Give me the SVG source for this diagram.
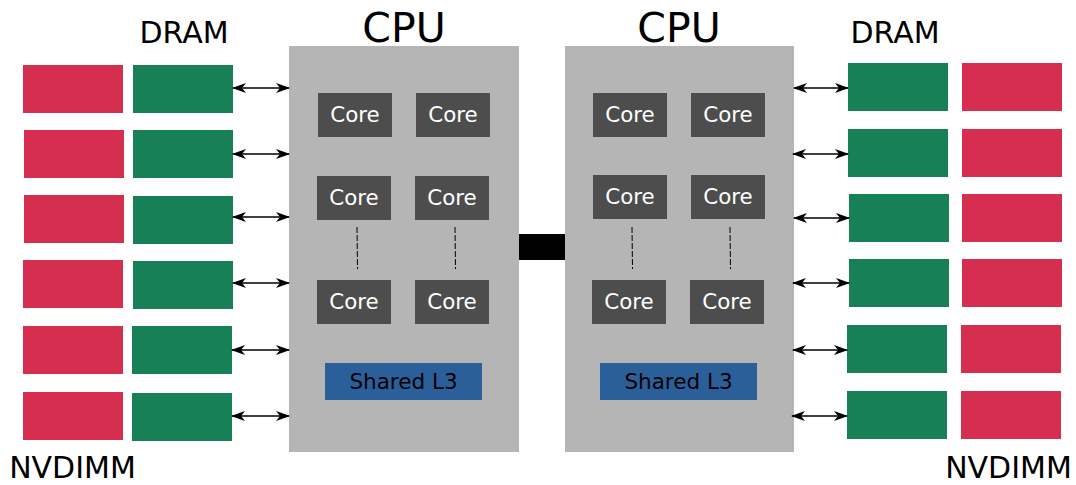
<svg xmlns="http://www.w3.org/2000/svg" width="1076" height="485" viewBox="0 0 1076 485">
<style>
.nv{fill:#d62e4f}
.dr{fill:#188056}
.cpu{fill:#b5b5b5}
.core{fill:#4d4d4d}
.l3{fill:#2a5f9a}
.ct{font-family:"DejaVu Sans",sans-serif;font-size:21.4px;fill:#fff;text-anchor:middle}
.lt{font-family:"DejaVu Sans",sans-serif;font-size:21.5px;fill:#000;text-anchor:middle}
.big{font-family:"DejaVu Sans",sans-serif;fill:#000;text-anchor:middle}
.arr{stroke:#000;stroke-width:1.5;fill:none;marker-start:url(#ah);marker-end:url(#ah)}
.dash{stroke:#000;stroke-width:1;stroke-dasharray:6,2;fill:none}
</style>
<defs>
<marker id="ah" viewBox="0 0 14 10" refX="13" refY="5" markerWidth="14" markerHeight="10" markerUnits="userSpaceOnUse" orient="auto-start-reverse">
<path d="M0,0 L14,5 L0,10 L4,5 z" fill="#000"/>
</marker>
</defs>
<rect width="1076" height="485" fill="#fff"/>

<g id="labels">
<text class="big" x="184" y="43" font-size="30">DRAM</text>
<text class="big" x="895" y="43" font-size="30">DRAM</text>
<text class="big" x="72.5" y="478" font-size="30">NVDIMM</text>
<text class="big" x="1008.5" y="478" font-size="30">NVDIMM</text>
</g>

<g id="left-nvdimm">
<rect class="nv" x="23" y="65" width="100" height="48"/>
<rect class="nv" x="24" y="130" width="100" height="48"/>
<rect class="nv" x="24" y="195" width="100" height="48"/>
<rect class="nv" x="23" y="260" width="100" height="48"/>
<rect class="nv" x="23" y="326" width="100" height="48"/>
<rect class="nv" x="23" y="392" width="100" height="48"/>
</g>
<g id="left-dram">
<rect class="dr" x="133" y="65" width="100" height="48"/>
<rect class="dr" x="133" y="130" width="100" height="48"/>
<rect class="dr" x="133" y="196" width="100" height="48"/>
<rect class="dr" x="133" y="261" width="100" height="48"/>
<rect class="dr" x="132" y="326" width="100" height="48"/>
<rect class="dr" x="132" y="393" width="100" height="48"/>
</g>

<g id="cpu-left">
<rect class="cpu" x="289" y="46" width="230" height="406"/>
<text class="big" x="404" y="42" font-size="41">CPU</text>
<rect class="core" x="318" y="93" width="74" height="44"/><text class="ct" x="355" y="122">Core</text>
<rect class="core" x="416" y="93" width="74" height="44"/><text class="ct" x="453" y="122">Core</text>
<rect class="core" x="317" y="176" width="74" height="44"/><text class="ct" x="354" y="205">Core</text>
<rect class="core" x="415" y="176" width="74" height="44"/><text class="ct" x="452" y="205">Core</text>
<rect class="core" x="317" y="280" width="74" height="44"/><text class="ct" x="354" y="309">Core</text>
<rect class="core" x="415" y="280" width="74" height="44"/><text class="ct" x="452" y="309">Core</text>
<line class="dash" x1="357" y1="227" x2="357.5" y2="269"/>
<line class="dash" x1="455" y1="227" x2="455.5" y2="269"/>
<rect class="l3" x="325" y="363" width="157" height="37"/>
<text class="lt" x="403.5" y="389">Shared L3</text>
</g>

<g id="interconnect">
<rect x="519" y="234" width="46" height="26" fill="#000"/>
</g>

<g id="cpu-right">
<rect class="cpu" x="565" y="46" width="229" height="406"/>
<text class="big" x="679" y="42" font-size="41">CPU</text>
<rect class="core" x="593" y="93" width="74" height="44"/><text class="ct" x="630" y="122">Core</text>
<rect class="core" x="691" y="93" width="74" height="44"/><text class="ct" x="728" y="122">Core</text>
<rect class="core" x="593" y="175" width="74" height="44"/><text class="ct" x="630" y="204">Core</text>
<rect class="core" x="691" y="175" width="74" height="44"/><text class="ct" x="728" y="204">Core</text>
<rect class="core" x="592" y="280" width="74" height="44"/><text class="ct" x="629" y="309">Core</text>
<rect class="core" x="690" y="280" width="74" height="44"/><text class="ct" x="727" y="309">Core</text>
<line class="dash" x1="632" y1="227" x2="632.5" y2="269"/>
<line class="dash" x1="730" y1="227" x2="730.5" y2="269"/>
<rect class="l3" x="600" y="363" width="157" height="37"/>
<text class="lt" x="678.5" y="389">Shared L3</text>
</g>

<g id="right-dram">
<rect class="dr" x="848" y="63" width="100" height="48"/>
<rect class="dr" x="848" y="129" width="100" height="48"/>
<rect class="dr" x="849" y="194" width="100" height="48"/>
<rect class="dr" x="849" y="259" width="100" height="48"/>
<rect class="dr" x="847" y="325" width="100" height="48"/>
<rect class="dr" x="847" y="391" width="100" height="48"/>
</g>
<g id="right-nvdimm">
<rect class="nv" x="962" y="63" width="100" height="48"/>
<rect class="nv" x="962" y="129" width="100" height="48"/>
<rect class="nv" x="962" y="194" width="100" height="48"/>
<rect class="nv" x="962" y="259" width="100" height="48"/>
<rect class="nv" x="961" y="325" width="100" height="48"/>
<rect class="nv" x="961" y="391" width="100" height="48"/>
</g>

<g id="connectors">
<line class="arr" x1="233" y1="88" x2="289" y2="88"/>
<line class="arr" x1="233" y1="154" x2="289" y2="154"/>
<line class="arr" x1="233" y1="217" x2="289" y2="217"/>
<line class="arr" x1="233" y1="283" x2="289" y2="283"/>
<line class="arr" x1="232" y1="350" x2="289" y2="350"/>
<line class="arr" x1="232" y1="416" x2="289" y2="416"/>
<line class="arr" x1="794" y1="88" x2="848" y2="88"/>
<line class="arr" x1="793" y1="154" x2="848" y2="154"/>
<line class="arr" x1="794" y1="218" x2="849" y2="218"/>
<line class="arr" x1="793" y1="283" x2="849" y2="283"/>
<line class="arr" x1="793" y1="350" x2="847" y2="350"/>
<line class="arr" x1="792" y1="416" x2="847" y2="416"/>
</g>
</svg>
